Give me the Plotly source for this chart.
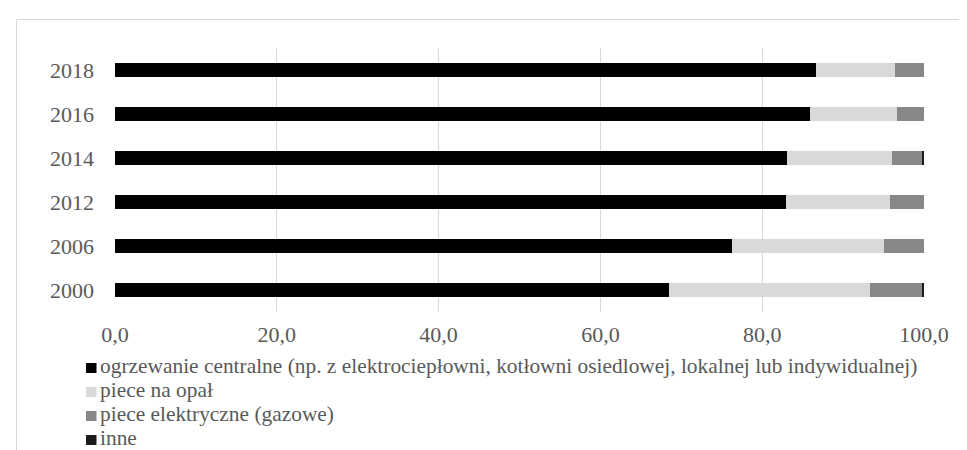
import plotly.graph_objects as go

years = ["2000", "2006", "2012", "2014", "2016", "2018"]
series_names = [
    "ogrzewanie centralne (np. z elektrociepłowni, kotłowni osiedlowej, lokalnej lub indywidualnej)",
    "piece na opał",
    "piece elektryczne (gazowe)",
    "inne",
]
central = [68.5, 76.3, 82.9, 83.1, 85.9, 86.7]
piece_opal = [24.8, 18.8, 12.9, 13.0, 10.8, 9.7]
piece_elektr = [6.5, 4.9, 4.2, 3.7, 3.3, 3.6]
inne = [0.2, 0.0, 0.0, 0.2, 0.0, 0.0]
x_ticks = [0, 20, 40, 60, 80, 100]

series_values = [central, piece_opal, piece_elektr, inne]
colors = ["#000000", "#d9d9d9", "#878787", "#1a1a1a"]

W, H = 967, 450
ML, MR, MT, MB = 107, 51, 40, 146
PW, PH = W - ML - MR, H - MT - MB


def px_x(px):
    return (px - ML) / PW


def px_y(py):
    return (H - MB - py) / PH


fig = go.Figure()
for name, vals, col in zip(series_names, series_values, colors):
    fig.add_trace(go.Bar(
        y=years, x=vals, name=name, orientation="h",
        marker=dict(color=col, line=dict(width=0)),
        width=0.32, showlegend=False,
    ))

font_family = "Liberation Serif"
text_color = "#595959"

shapes = []
annotations = []
# outer chart frame
shapes.append(dict(type="rect", xref="paper", yref="paper",
                   x0=px_x(8.5), x1=px_x(990), y0=px_y(470), y1=px_y(11.5),
                   line=dict(color="#d9d9d9", width=1), fillcolor="rgba(0,0,0,0)",
                   layer="below"))

# legend (built as text + swatches)
row_centers = [359.5, 383.5, 407.5, 431.5]
for name, col, cy in zip(series_names, colors, row_centers):
    shapes.append(dict(type="rect", xref="paper", yref="paper",
                       x0=px_x(78), x1=px_x(88.5), y0=px_y(cy + 5.5), y1=px_y(cy - 4.5),
                       line=dict(width=0), fillcolor=col))
    annotations.append(dict(xref="paper", yref="paper", x=px_x(90), y=px_y(cy - 1.5),
                            text=name, showarrow=False, xanchor="left", yanchor="middle",
                            font=dict(family=font_family, size=21.4, color=text_color)))

fig.update_layout(
    width=W, height=H,
    margin=dict(l=ML, r=MR, t=MT, b=MB, pad=0),
    barmode="stack",
    paper_bgcolor="white", plot_bgcolor="white",
    separators=", ",
    showlegend=False,
    shapes=shapes,
    annotations=annotations,
    font=dict(family=font_family, color=text_color),
)
fig.update_xaxes(
    range=[0, 100], tickvals=x_ticks, tickformat=".1f",
    showgrid=True, gridcolor="#d9d9d9", gridwidth=1,
    zeroline=False, showline=False,
    tickfont=dict(family=font_family, size=22, color=text_color),
    ticklabelstandoff=7,
)
fig.update_yaxes(
    type="category", categoryorder="array", categoryarray=years,
    showgrid=False, zeroline=False, showline=False,
    tickfont=dict(family=font_family, size=22, color=text_color),
    ticklabelstandoff=20,
)

fig.write_html("out.html")
